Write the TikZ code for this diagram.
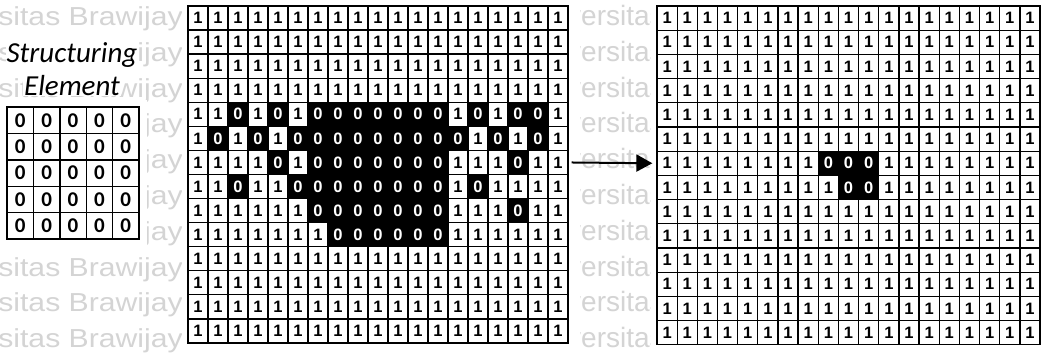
\documentclass[tikz,border=0pt]{standalone}
\usepackage{fontspec}
\usepackage{tikz}
\usetikzlibrary{arrows.meta}
\newfontfamily\hurufsel{Liberation Sans}
\newfontfamily\hurufwm[FakeStretch=1.16]{Liberation Sans}
\newfontfamily\hurufse{Carlito}
\tikzset{
  sel/.style    = {draw=black, line width=1.3pt, fill=white, text=black, inner sep=0pt,
                   font=\hurufsel\bfseries\fontsize{16.5}{16.5}\selectfont},
  selnol/.style = {sel, fill=black, text=white},
  selse/.style  = {draw=black, line width=1.4pt, fill=white, inner sep=0pt,
                   minimum width=26.4pt, minimum height=26.4pt,
                   font=\hurufse\bfseries\fontsize{21}{21}\selectfont},
  judul/.style  = {fill=white, inner sep=1pt, anchor=base,
                   font=\hurufse\itshape\fontsize{29}{29}\selectfont},
  tanda/.style  = {text=black!17, inner sep=0pt, anchor=base west},
  panah/.style  = {-{Triangle[length=16pt,width=17pt]}, line width=2pt, black}
}

\begin{document}
\begin{tikzpicture}[x=1pt, y=-1pt]
  \useasboundingbox (0,0) rectangle (1049,361);
  \fill[white] (0,0) rectangle (1049,361);
  \begin{scope}
    \clip (0,0) rectangle (1049,361);
    \foreach \i in {0,...,9}{
      \node[tanda, font=\hurufwm\fontsize{26}{26}\selectfont] (wm-a-\i) at (-89,{25.5+35.8*\i}) {Universitas Brawijaya};
      \node[tanda, font=\hurufsel\fontsize{28}{28}\selectfont] (wm-b-\i) at (525,{25.5+35.8*\i}) {Universitas};
    }
  \end{scope}
  \fill[white] (0,100) rectangle (147,247);
  \fill[white] (182,0) rectangle (580,361);
  \fill[white] (651,0) rectangle (1049,361);
  \node[judul] (judul-1) at (72,63) {Structuring};
  \node[judul] (judul-2) at (72,95) {Element};
  \foreach \r in {1,...,5}{
    \foreach \c in {1,...,5}{\node[selse] (se-\r-\c) at ({7+26.4*(\c-0.5)},{107+26.4*(\r-0.5)}) {0};}
  }
  \foreach \baris [count=\r] in {
    {1,1,1,1,1,1,1,1,1,1,1,1,1,1,1,1,1,1,1},
    {1,1,1,1,1,1,1,1,1,1,1,1,1,1,1,1,1,1,1},
    {1,1,1,1,1,1,1,1,1,1,1,1,1,1,1,1,1,1,1},
    {1,1,1,1,1,1,1,1,1,1,1,1,1,1,1,1,1,1,1},
    {1,1,0,1,0,1,0,0,0,0,0,0,0,1,0,1,0,0,1},
    {1,0,1,0,1,0,0,0,0,0,0,0,0,0,1,0,1,0,1},
    {1,1,1,1,0,1,0,0,0,0,0,0,0,1,1,1,0,1,1},
    {1,1,0,1,1,0,0,0,0,0,0,0,0,1,0,1,1,1,1},
    {1,1,1,1,1,1,0,0,0,0,0,0,0,1,1,1,0,1,1},
    {1,1,1,1,1,1,1,0,0,0,0,0,0,1,1,1,1,1,1},
    {1,1,1,1,1,1,1,1,1,1,1,1,1,1,1,1,1,1,1},
    {1,1,1,1,1,1,1,1,1,1,1,1,1,1,1,1,1,1,1},
    {1,1,1,1,1,1,1,1,1,1,1,1,1,1,1,1,1,1,1},
    {1,1,1,1,1,1,1,1,1,1,1,1,1,1,1,1,1,1,1}}{
    \foreach \v [count=\c] in \baris {
      \pgfmathsetmacro\px{188+20*(\c-0.5)}
      \pgfmathsetmacro\py{6+24.07*(\r-0.5)}
      \ifnum\v=0
        \node[selnol, minimum width=20pt, minimum height=24.07pt] (in-\r-\c) at (\px,\py) {0};
      \else
        \node[sel, minimum width=20pt, minimum height=24.07pt] (in-\r-\c) at (\px,\py) {1};
      \fi
    }
  }
  \foreach \r in {1,...,14}{
    \foreach \c in {1,...,19}{
      \pgfmathtruncatemacro\v{((\r==7)&&(\c>8)&&(\c<12))||((\r==8)&&(\c>9)&&(\c<12)) ? 0 : 1}
      \pgfmathsetmacro\px{657+20.16*(\c-0.5)}
      \pgfmathsetmacro\py{6+24.2*(\r-0.5)}
      \ifnum\v=0
        \node[selnol, minimum width=20.16pt, minimum height=24.2pt] (out-\r-\c) at (\px,\py) {0};
      \else
        \node[sel, minimum width=20.16pt, minimum height=24.2pt] (out-\r-\c) at (\px,\py) {1};
      \fi
    }
  }
  \draw[panah, shorten <=3pt, shorten >=4pt] (in-7-19.east) -- (out-7-1.west);
\end{tikzpicture}
\end{document}
